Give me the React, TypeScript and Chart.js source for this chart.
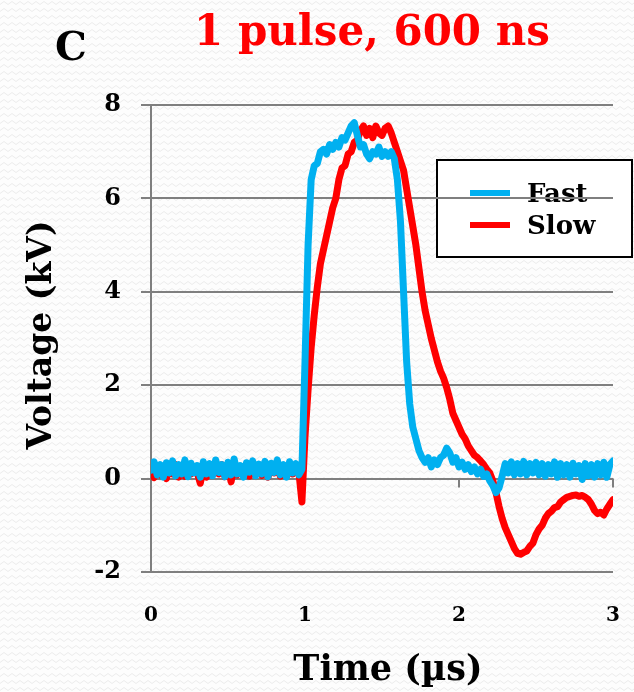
import React, { useEffect, useRef } from "react";
import { Chart, registerables } from "chart.js";

Chart.register(...registerables);

// Sampling grid: 0 to 3 µs every 0.02 µs (151 samples)
const SAMPLE_COUNT = 151;
const timeUs: number[] = Array.from({ length: SAMPLE_COUNT }, (_, i) => Math.round(i * 2) / 100);

const seriesNames = ["Fast", "Slow"];
const seriesColors = ["#00B0F0", "#FF0000"];

// Fast pulse (kV)
const fastKV: number[] = [
  0.18, 0.36, 0.08, 0.30, 0.03, 0.34, 0.12, 0.38, 0.06, 0.30,
  0.10, 0.40, 0.04, 0.33, 0.12, 0.28, 0.03, 0.36, 0.10, 0.32,
  0.06, 0.40, 0.13, 0.30, 0.04, 0.35, 0.08, 0.42, 0.10, 0.28,
  0.03, 0.34, 0.14, 0.38, 0.06, 0.31, 0.10, 0.37, 0.04, 0.33,
  0.13, 0.40, 0.08, 0.30, 0.03, 0.36, 0.12, 0.32, 0.08, 0.20,
  2.5, 5.0, 6.4, 6.7, 6.75, 7.0, 7.05, 6.95, 7.15, 7.05,
  7.2, 7.1, 7.3, 7.25, 7.4, 7.55, 7.62, 7.35, 7.1, 7.15,
  6.95, 6.85, 7.0, 6.95, 7.1, 6.9, 7.0, 6.9, 7.0, 6.85,
  6.4, 5.5, 4.0, 2.5, 1.6, 1.1, 0.85, 0.6, 0.45, 0.35,
  0.45, 0.25, 0.4, 0.3, 0.45, 0.5, 0.65, 0.55, 0.35, 0.45,
  0.25, 0.35, 0.2, 0.3, 0.15, 0.25, 0.1, 0.2, 0.05, 0.1,
  -0.05, -0.15, -0.3, -0.2, 0.05, 0.32, 0.12, 0.36, 0.08, 0.32,
  0.1, 0.37, 0.08, 0.32, 0.12, 0.35, 0.08, 0.32, 0.05, 0.3,
  0.1, 0.36, 0.03, 0.32, 0.08, 0.3, 0.03, 0.33, 0.1, 0.28,
  -0.02, 0.32, 0.06, 0.3, 0.03, 0.32, 0.08, 0.35, 0.03, 0.3,
  0.38,
];

// Slow pulse (kV)
const slowKV: number[] = [
  0.15, 0.02, 0.27, 0.08, 0.24, 0.0, 0.25, 0.10, 0.30, 0.03,
  0.22, 0.05, 0.28, 0.10, 0.25, 0.13, -0.1, 0.22, 0.03, 0.28,
  0.08, 0.25, 0.10, 0.30, 0.04, 0.24, -0.07, 0.27, 0.08, 0.22,
  0.12, 0.29, 0.05, 0.25, 0.10, 0.30, 0.07, 0.24, 0.03, 0.28,
  0.12, 0.31, 0.05, 0.25, 0.12, 0.30, 0.10, 0.24, 0.15, -0.5,
  0.9, 1.9, 2.8, 3.5, 4.1, 4.6, 4.9, 5.2, 5.5, 5.8,
  6.0, 6.4, 6.65, 6.7, 6.95, 7.0, 7.2, 7.25, 7.45, 7.55,
  7.35, 7.5, 7.3, 7.55, 7.4, 7.35, 7.5, 7.55, 7.4, 7.2,
  7.0, 6.8, 6.6, 6.2, 5.8, 5.4, 5.0, 4.5, 4.0, 3.6,
  3.3, 3.0, 2.75, 2.5, 2.3, 2.15, 1.95, 1.7, 1.4, 1.25,
  1.1, 0.95, 0.85, 0.7, 0.6, 0.5, 0.45, 0.38, 0.3, 0.2,
  0.12, -0.05, -0.3, -0.6, -0.85, -1.05, -1.2, -1.35, -1.5, -1.6,
  -1.62, -1.58, -1.55, -1.45, -1.38, -1.2, -1.08, -1.0, -0.85, -0.75,
  -0.7, -0.62, -0.6, -0.5, -0.45, -0.4, -0.38, -0.36, -0.35, -0.38,
  -0.36, -0.4, -0.45, -0.55, -0.68, -0.75, -0.72, -0.78, -0.65, -0.55,
  -0.45,
];

const yTicks = [-2, 0, 2, 4, 6, 8];
const xTicks = [0, 1, 2, 3];

const panelLabel = "C";
const chartTitle = "1 pulse, 600 ns";
const xTitle = "Time (µs)";
const yTitle = "Voltage (kV)";

const FONT = "'DejaVu Serif', 'Liberation Serif', serif";
const GRID = "#7f7f7f";

function makePattern(ctx: CanvasRenderingContext2D) {
  const tile = document.createElement("canvas");
  tile.width = 8;
  tile.height = 7;
  const t = tile.getContext("2d")!;
  t.fillStyle = "#fdfdfd";
  t.fillRect(0, 0, 8, 7);
  t.strokeStyle = "#ececec";
  t.lineWidth = 1;
  t.beginPath();
  t.moveTo(0, 4.5);
  t.lineTo(4, 1.5);
  t.lineTo(8, 4.5);
  t.stroke();
  return ctx.createPattern(tile, "repeat");
}

const decorPlugin = {
  id: "decor",
  beforeDraw(chart: any) {
    const ctx = chart.ctx as CanvasRenderingContext2D;
    ctx.save();
    const pat = makePattern(ctx);
    ctx.fillStyle = pat || "#fcfcfc";
    ctx.fillRect(0, 0, chart.width, chart.height);

    // legend box (drawn under the gridlines, as in the reference)
    const lx = 437, ly = 160, lw = 195, lh = 97;
    ctx.fillStyle = "#ffffff";
    ctx.fillRect(lx, ly, lw, lh);
    ctx.strokeStyle = "#000000";
    ctx.lineWidth = 2;
    ctx.strokeRect(lx, ly, lw, lh);
    const rows = [193, 225];
    ctx.font = `bold 26px ${FONT}`;
    ctx.textBaseline = "middle";
    ctx.textAlign = "left";
    seriesNames.forEach((name, i) => {
      ctx.strokeStyle = seriesColors[i];
      ctx.lineWidth = 6;
      ctx.lineCap = "butt";
      ctx.beginPath();
      ctx.moveTo(470, rows[i]);
      ctx.lineTo(510, rows[i]);
      ctx.stroke();
      ctx.fillStyle = "#000000";
      ctx.fillText(name, 527, rows[i] + 2);
    });
    ctx.restore();
  },
  beforeDatasetsDraw(chart: any) {
    const ctx = chart.ctx as CanvasRenderingContext2D;
    const xs = chart.scales.x;
    const ys = chart.scales.y;
    const y0 = ys.getPixelForValue(0);
    ctx.save();
    ctx.strokeStyle = GRID;
    ctx.lineWidth = 2;
    xTicks.forEach((v) => {
      const px = xs.getPixelForValue(v);
      ctx.beginPath();
      ctx.moveTo(px, y0);
      ctx.lineTo(px, y0 + 9);
      ctx.stroke();
    });
    ctx.restore();
  },
  afterDraw(chart: any) {
    const ctx = chart.ctx as CanvasRenderingContext2D;
    ctx.save();
    ctx.textBaseline = "alphabetic";
    ctx.textAlign = "center";
    ctx.fillStyle = "#000000";
    ctx.font = `bold 40px ${FONT}`;
    ctx.fillText(panelLabel, 71, 60);

    ctx.fillStyle = "#FF0000";
    ctx.font = `bold 42px ${FONT}`;
    ctx.fillText(chartTitle, 372, 45);

    ctx.fillStyle = "#000000";
    ctx.font = `bold 35px ${FONT}`;
    ctx.fillText(xTitle, 388, 680);

    ctx.translate(42, 335);
    ctx.rotate(-Math.PI / 2);
    ctx.textBaseline = "middle";
    ctx.font = `bold 33px ${FONT}`;
    ctx.fillText(yTitle, 0, 0);
    ctx.restore();
  },
};

export default function App() {
  const ref = useRef<HTMLCanvasElement | null>(null);

  useEffect(() => {
    document.body.style.margin = "0";
    const canvas = ref.current!;
    const chart = new Chart(canvas, {
      type: "line",
      data: {
        datasets: [
          {
            label: seriesNames[0],
            data: timeUs.map((t, i) => ({ x: t, y: fastKV[i] })),
            borderColor: seriesColors[0],
            backgroundColor: seriesColors[0],
            borderWidth: 7,
            pointRadius: 0,
            tension: 0,
            borderJoinStyle: "round",
            borderCapStyle: "round",
          },
          {
            label: seriesNames[1],
            data: timeUs.map((t, i) => ({ x: t, y: slowKV[i] })),
            borderColor: seriesColors[1],
            backgroundColor: seriesColors[1],
            borderWidth: 7,
            pointRadius: 0,
            tension: 0,
            borderJoinStyle: "round",
            borderCapStyle: "round",
          },
        ],
      },
      options: {
        responsive: false,
        animation: false,
        devicePixelRatio: 1,
        layout: { padding: { top: 105, right: 21, bottom: 0, left: 0 } },
        plugins: {
          legend: { display: false },
          title: { display: false },
          tooltip: { enabled: false },
        },
        scales: {
          x: {
            type: "linear",
            min: 0,
            max: 3,
            afterFit: (s: any) => {
              s.height = 120;
            },
            afterBuildTicks: (s: any) => {
              s.ticks = xTicks.map((v) => ({ value: v }));
            },
            grid: { display: false, drawTicks: true, tickLength: 30 },
            border: { display: false },
            ticks: {
              padding: 2,
              color: "#000000",
              font: { family: FONT, size: 20, weight: "bold" },
              maxRotation: 0,
            },
          },
          y: {
            type: "linear",
            min: -2,
            max: 8,
            afterFit: (s: any) => {
              s.width = 151;
            },
            afterBuildTicks: (s: any) => {
              s.ticks = yTicks.map((v) => ({ value: v }));
            },
            grid: { color: GRID, lineWidth: 2, tickLength: 10, drawTicks: true },
            border: { display: true, color: GRID, width: 2 },
            ticks: {
              padding: 20,
              color: "#000000",
              font: { family: FONT, size: 24, weight: "bold" },
            },
          },
        },
      },
      plugins: [decorPlugin],
    } as any);
    return () => chart.destroy();
  }, []);

  return <canvas ref={ref} width={634} height={692} style={{ display: "block", width: 634, height: 692 }} />;
}
